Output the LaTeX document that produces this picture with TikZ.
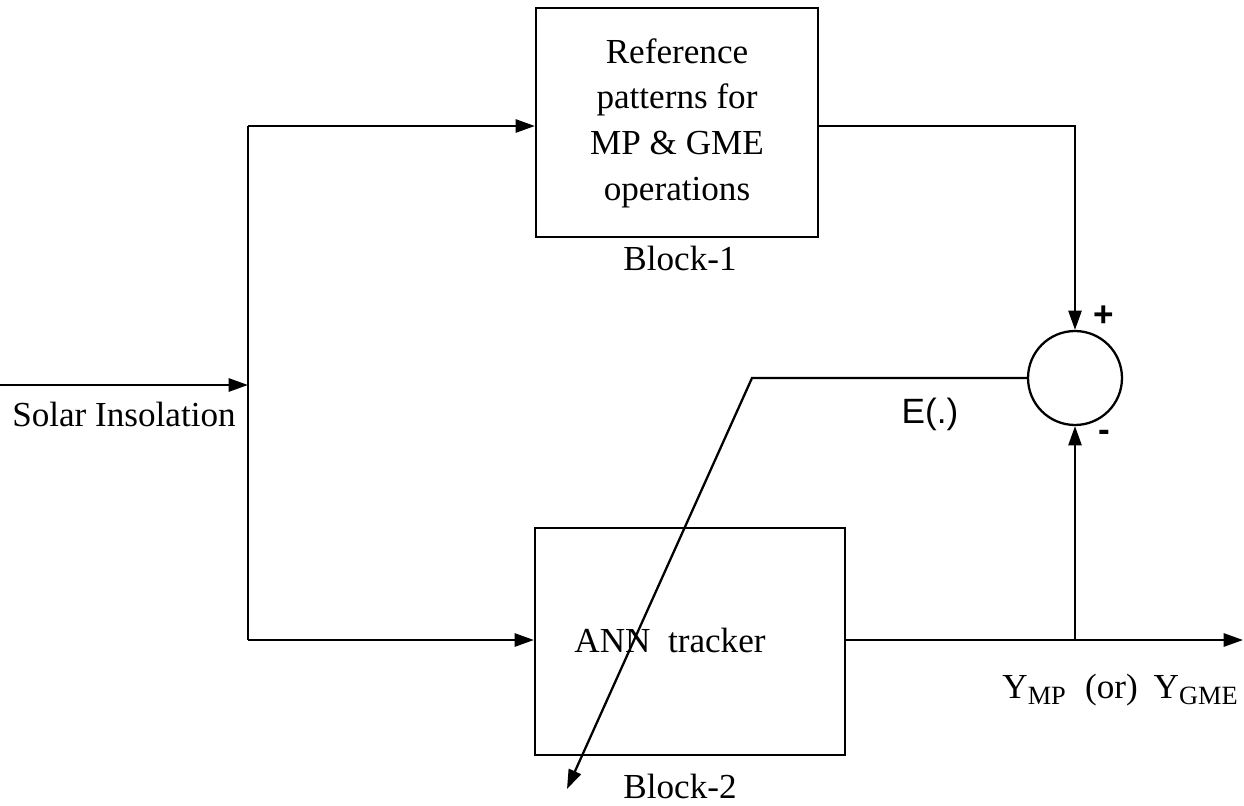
\documentclass[tikz,border=0pt]{standalone}
\usepackage{fontspec}
\setmainfont{Liberation Serif}
\newfontfamily\esans{Liberation Sans}
\usetikzlibrary{arrows.meta}
\newcommand{\ysub}[1]{\raisebox{-0.35ex}{\fontsize{15}{15}\selectfont #1}}
\begin{document}
\begin{tikzpicture}[x=0.02cm, y=-0.02cm, line width=1.3pt, >={Triangle[length=11pt,width=7.5pt]},
  block node/.style={rectangle,draw,inner sep=0pt},
  txt node/.style={font=\fontsize{20}{26}\selectfont,align=center,inner sep=0pt}]
\useasboundingbox (0,0) rectangle (1244,805);
\begin{scope}
\node[block node,minimum width=5.64cm,minimum height=4.58cm] (b1) at (677,122.5) {};
\node[block node,minimum width=6.2cm,minimum height=4.54cm] (b2) at (690,641.5) {};
\node[circle,draw,minimum size=1.88cm,inner sep=0pt] (sum) at (1075,378) {};
\end{scope}
\begin{scope}[every node/.style={txt node}]
\node (t1) at (677,123) {Reference\\patterns for\\MP \& GME\\operations};
\node (l1) at (680,258) {Block-1};
\node (t2) at (670,640) {ANN~~tracker};
\node (l2) at (680,786) {Block-2};
\node (lin) at (124,414) {Solar Insolation};
\node (lout) at (1120,690) {Y\ysub{MP}\hspace{0.55em}(or)\hspace{0.45em}Y\ysub{GME}};
\node[font=\esans\fontsize{20}{26}\selectfont] (le) at (930,414) {E(.)};
\node[font=\esans\bfseries\fontsize{20}{26}\selectfont] (lp) at (1104,316) {+};
\node[font=\esans\bfseries\fontsize{20}{26}\selectfont] (lm) at (1104,436) {-};
\end{scope}
\coordinate (in) at (0,385);
\coordinate (split) at (248,385);
\coordinate (top) at (248,126);
\coordinate (bot) at (248,640);
\coordinate (out) at (1243,640);
\coordinate (tap) at (1075,640);
\coordinate (knee) at (752,378);
\coordinate (err) at (567,789);
\begin{scope}
\draw[->] (in) -- (split);
\draw (top) -- (bot);
\draw[->] (top) -- (top -| b1.west);
\draw[->] (bot) -- (bot -| b2.west);
\draw[->] (top -| b1.east) -| (sum.north);
\draw[->] (bot -| b2.east) -- (out);
\draw[->] (tap) -- (sum.south);
\draw[->] (sum.west) -- (knee) -- (err);
\end{scope}
\end{tikzpicture}
\end{document}
